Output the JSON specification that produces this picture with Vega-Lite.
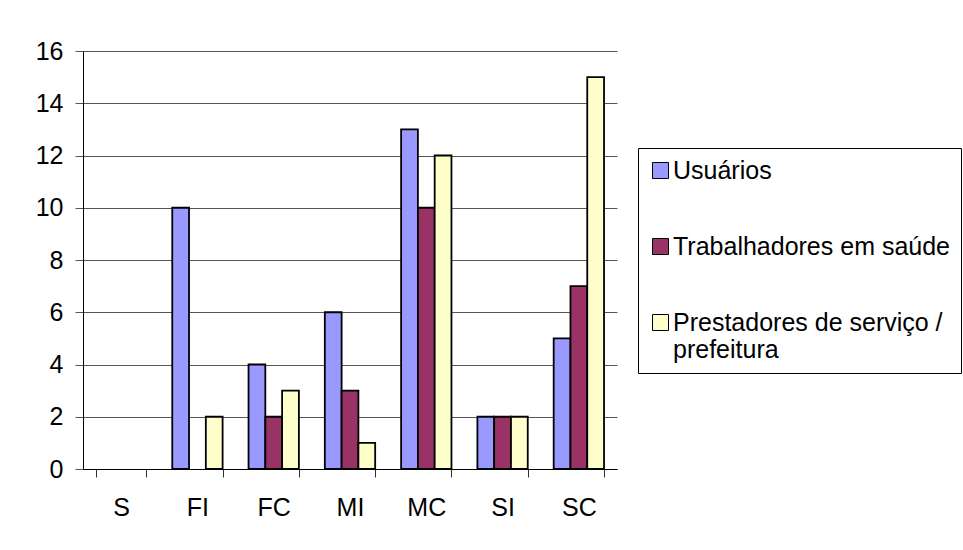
{
  "$schema": "https://vega.github.io/schema/vega-lite/v6.json",
  "autosize": "none",
  "width": 534,
  "height": 418,
  "padding": {"left": 83, "top": 51, "right": 346, "bottom": 81},
  "background": "white",
  "data": {
    "values": [
      {"grupo": "S", "serie": "Usuários", "valor": 0},
      {"grupo": "S", "serie": "Trabalhadores em saúde", "valor": 0},
      {"grupo": "S", "serie": "Prestadores de serviço / prefeitura", "valor": 0},
      {"grupo": "FI", "serie": "Usuários", "valor": 10},
      {"grupo": "FI", "serie": "Trabalhadores em saúde", "valor": 0},
      {"grupo": "FI", "serie": "Prestadores de serviço / prefeitura", "valor": 2},
      {"grupo": "FC", "serie": "Usuários", "valor": 4},
      {"grupo": "FC", "serie": "Trabalhadores em saúde", "valor": 2},
      {"grupo": "FC", "serie": "Prestadores de serviço / prefeitura", "valor": 3},
      {"grupo": "MI", "serie": "Usuários", "valor": 6},
      {"grupo": "MI", "serie": "Trabalhadores em saúde", "valor": 3},
      {"grupo": "MI", "serie": "Prestadores de serviço / prefeitura", "valor": 1},
      {"grupo": "MC", "serie": "Usuários", "valor": 13},
      {"grupo": "MC", "serie": "Trabalhadores em saúde", "valor": 10},
      {"grupo": "MC", "serie": "Prestadores de serviço / prefeitura", "valor": 12},
      {"grupo": "SI", "serie": "Usuários", "valor": 2},
      {"grupo": "SI", "serie": "Trabalhadores em saúde", "valor": 2},
      {"grupo": "SI", "serie": "Prestadores de serviço / prefeitura", "valor": 2},
      {"grupo": "SC", "serie": "Usuários", "valor": 5},
      {"grupo": "SC", "serie": "Trabalhadores em saúde", "valor": 7},
      {"grupo": "SC", "serie": "Prestadores de serviço / prefeitura", "valor": 15}
    ]
  },
  "transform": [{"filter": "datum.valor > 0"}],
  "mark": {"type": "bar", "stroke": "black", "strokeWidth": 1.8},
  "encoding": {
    "x": {
      "field": "grupo",
      "type": "nominal",
      "sort": null,
      "scale": {"domain": ["S", "FI", "FC", "MI", "MC", "SI", "SC"], "paddingInner": 0.34, "paddingOuter": 0.17},
      "axis": {
        "title": null,
        "labelAngle": 0,
        "tickBand": "extent",
        "tickSize": 8,
        "tickColor": "#333",
        "domainColor": "black",
        "labelPadding": 18,
        "grid": false
      }
    },
    "xOffset": {
      "field": "serie",
      "type": "nominal",
      "scale": {"domain": ["Usuários", "Trabalhadores em saúde", "Prestadores de serviço / prefeitura"], "paddingInner": 0, "paddingOuter": 0}
    },
    "y": {
      "field": "valor",
      "type": "quantitative",
      "scale": {"domain": [0, 16], "nice": false},
      "axis": {
        "title": null,
        "values": [0, 2, 4, 6, 8, 10, 12, 14, 16],
        "grid": true,
        "gridColor": "#555",
        "gridOpacity": 1,
        "tickSize": 8,
        "tickColor": "#555",
        "domainColor": "black",
        "labelPadding": 12
      }
    },
    "color": {
      "field": "serie",
      "type": "nominal",
      "scale": {
        "domain": ["Usuários", "Trabalhadores em saúde", "Prestadores de serviço / prefeitura"],
        "range": ["#9999FF", "#993366", "#FFFFCC"]
      },
      "legend": {
        "title": null,
        "orient": "none",
        "legendX": 555,
        "legendY": 97,
        "strokeColor": "black",
        "padding": 10,
        "symbolType": "square",
        "symbolSize": 256,
        "symbolStrokeColor": "black",
        "symbolStrokeWidth": 1,
        "symbolOpacity": 1,
        "labelOffset": 0,
        "labelLimit": 400,
        "rowPadding": 50,
        "labelExpr": "datum.label == 'Prestadores de serviço / prefeitura' ? ['Prestadores de serviço /', 'prefeitura'] : datum.label"
      }
    }
  },
  "config": {
    "font": "Liberation Sans",
    "view": {"stroke": null},
    "axis": {
      "labelFont": "Liberation Sans",
      "labelFontSize": 25,
      "labelColor": "black",
      "domainWidth": 1,
      "tickWidth": 1,
      "gridWidth": 1
    },
    "legend": {
      "labelFont": "Liberation Sans",
      "labelFontSize": 25,
      "labelColor": "black"
    }
  }
}
